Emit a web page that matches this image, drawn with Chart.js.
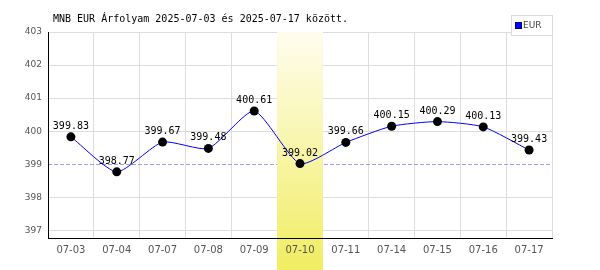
<!DOCTYPE html>
<html>
<head>
<meta charset="utf-8">
<script src="https://cdn.jsdelivr.net/npm/chart.js@4"></script>
<style>
  body { margin: 0; background: #fff; }
</style>
</head>
<body>
<canvas id="rateChart" width="600" height="270"></canvas>
<script>
// adatok
const categories = ['07-03', '07-04', '07-07', '07-08', '07-09', '07-10', '07-11', '07-14', '07-15', '07-16', '07-17'];
const eurValues = [399.83, 398.77, 399.67, 399.48, 400.61, 399.02, 399.66, 400.15, 400.29, 400.13, 399.43];
const yTicks = [397, 398, 399, 400, 401, 402, 403];
const highlightDay = '07-10';
const refLevel = 399;
const titleText = 'MNB EUR Árfolyam 2025-07-03 és 2025-07-17 között.';
const seriesName = 'EUR';

const extras = {
    id: 'extras',
    beforeDatasetsDraw(chart) {
        const ctx = chart.ctx;
        const area = chart.chartArea;
        const x = chart.scales.x;
        const y = chart.scales.y;

        // szaggatott vonal
        const ry = Math.round(y.getPixelForValue(refLevel)) + 0.5;
        ctx.save();
        ctx.strokeStyle = '#a0a0e0';
        ctx.lineWidth = 1;
        ctx.setLineDash([4, 2]);
        ctx.beginPath();
        ctx.moveTo(area.left, ry);
        ctx.lineTo(area.right, ry);
        ctx.stroke();
        ctx.restore();

        // kiemelt nap
        const idx = categories.indexOf(highlightDay);
        const w = (area.right - area.left) / categories.length;
        const cx = x.getPixelForValue(idx);
        const grad = ctx.createLinearGradient(0, area.top, 0, chart.height);
        grad.addColorStop(0, '#fffdee');
        grad.addColorStop(1, '#f1ed62');
        ctx.save();
        ctx.fillStyle = grad;
        ctx.fillRect(cx - w / 2, area.top, w, chart.height - area.top);
        ctx.restore();
    },
    afterDatasetsDraw(chart) {
        const ctx = chart.ctx;
        const meta = chart.getDatasetMeta(0);
        ctx.save();
        ctx.font = '10px "DejaVu Sans Mono"';
        ctx.fillStyle = '#000';
        ctx.textAlign = 'center';
        ctx.textBaseline = 'alphabetic';
        meta.data.forEach((pt, i) => {
            ctx.fillText(eurValues[i].toFixed(2), pt.x, pt.y - 8);
        });
        ctx.restore();
    },
    afterDraw(chart) {
        const ctx = chart.ctx;
        ctx.save();
        // cím
        ctx.font = '10px "DejaVu Sans Mono"';
        ctx.fillStyle = '#000';
        ctx.textAlign = 'left';
        ctx.textBaseline = 'alphabetic';
        ctx.fillText(titleText, 53, 22);

        // jelmagyarázat
        ctx.fillStyle = '#fff';
        ctx.fillRect(511.5, 15.5, 41, 20);
        ctx.strokeStyle = '#dcdcdc';
        ctx.lineWidth = 1;
        ctx.strokeRect(511.5, 15.5, 41, 20);
        ctx.fillStyle = '#0000ff';
        ctx.fillRect(515.5, 22.5, 6, 6);
        ctx.strokeStyle = '#000066';
        ctx.strokeRect(515.5, 22.5, 6, 6);
        ctx.font = '9px "DejaVu Sans"';
        ctx.fillStyle = '#444';
        ctx.textBaseline = 'middle';
        ctx.fillText(seriesName, 523, 26);
        ctx.restore();
    }
};

new Chart(document.getElementById('rateChart'), {
    type: 'line',
    data: {
        labels: categories,
        datasets: [{
            label: seriesName,
            data: eurValues,
            borderColor: '#0000ff',
            borderWidth: 1,
            tension: 0.2,
            pointRadius: 4.5,
            pointBackgroundColor: '#000',
            pointBorderColor: '#000',
            pointBorderWidth: 0,
            fill: false
        }]
    },
    options: {
        responsive: false,
        animation: false,
        layout: { padding: { top: 32, right: 48, left: 0, bottom: 0 } },
        plugins: {
            legend: { display: false },
            title: { display: false },
            tooltip: { enabled: false }
        },
        scales: {
            x: {
                offset: true,
                grid: { offset: true, color: '#dddddd', drawTicks: false },
                border: { color: '#000', width: 1, z: 1 },
                ticks: {
                    padding: 6,
                    z: 1,
                    color: '#555',
                    font: { family: 'DejaVu Sans', size: 10 },
                    maxRotation: 0,
                    autoSkip: false
                },
                afterFit(scale) { scale.height = 32; }
            },
            y: {
                min: 396.77,
                max: 403,
                afterBuildTicks(scale) {
                    scale.ticks = yTicks.map(v => ({ value: v }));
                },
                grid: {
                    drawTicks: false,
                    color: ctx => (ctx.tick && ctx.tick.value === refLevel) ? 'rgba(0,0,0,0)' : '#dddddd'
                },
                border: { color: '#000', width: 1, z: 1 },
                ticks: {
                    padding: 6,
                    color: '#555',
                    font: { family: 'DejaVu Sans', size: 9 }
                },
                afterFit(scale) { scale.width = 48; }
            }
        }
    },
    plugins: [extras]
});
</script>
</body>
</html>
